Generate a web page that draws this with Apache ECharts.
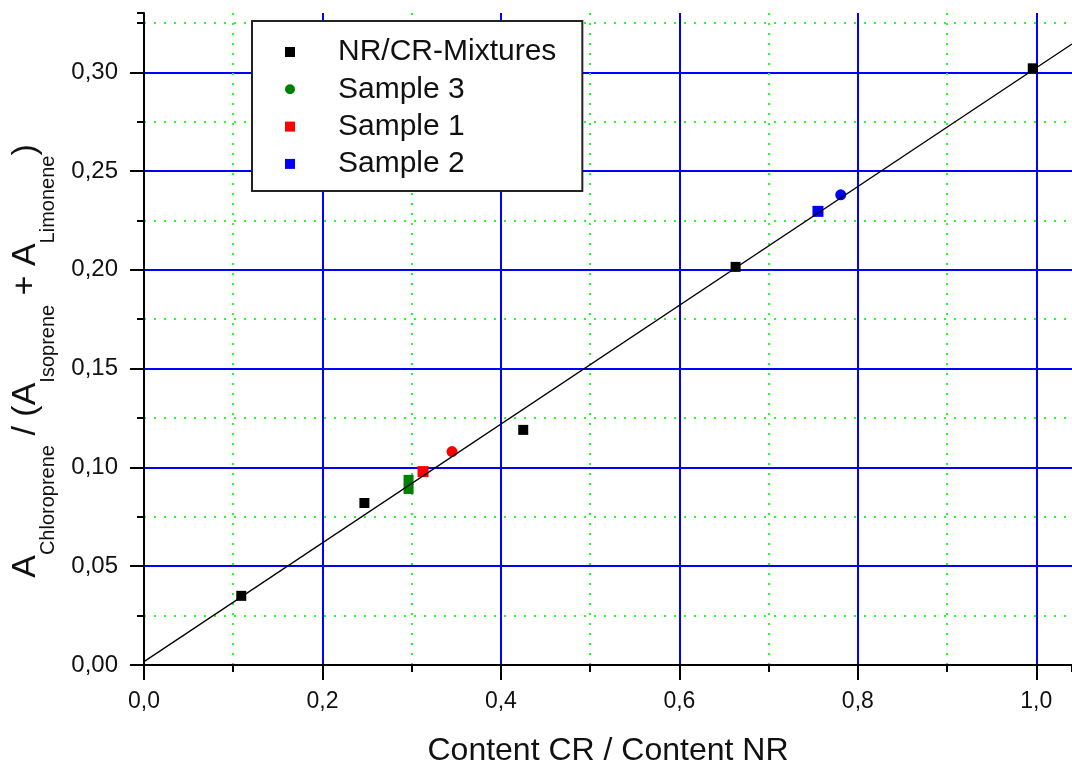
<!DOCTYPE html>
<html>
<head>
<meta charset="utf-8">
<script src="https://cdn.jsdelivr.net/npm/echarts@6/dist/echarts.min.js"></script>
<style>
  html, body { margin: 0; padding: 0; background: #fff; }
  #chart { width: 1072px; height: 766px; }
</style>
</head>
<body>
<div id="chart"></div>
<script>
// values
const mixtures = [[0.109, 0.035], [0.247, 0.082], [0.425, 0.119], [0.663, 0.2015], [0.996, 0.302]];
const sample3 = [[0.2965, 0.0937], [0.2965, 0.0891]];
const sample1 = [[0.3127, 0.0979], [0.3452, 0.108]];
const sample2 = [[0.7553, 0.2296], [0.7808, 0.238]];
const fitLine = [[0, 0.0017], [1.04, 0.3143]];

const xLabels = ['0,0', '0,2', '0,4', '0,6', '0,8', '1,0'];
const yLabels = ['0,00', '0,05', '0,10', '0,15', '0,20', '0,25', '0,30'];

const font = 'Liberation Sans, Arial, sans-serif';
const black = '#000';
const blue = '#0000ff';
const green = '#22ff22';

const chart = echarts.init(document.getElementById('chart'));

// first point of a sample is a square, second a dot
const sampleSymbol = (v, p) => (p.dataIndex === 0 ? 'rect' : 'circle');

chart.setOption({
  animation: false,
  backgroundColor: '#fff',
  grid: { left: 144, top: 13, right: 0, bottom: 101, outerBoundsMode: 'none', containLabel: false },
  legend: {
    orient: 'vertical',
    left: 252,
    top: 21,
    padding: [16, 26, 12, 33],
    itemWidth: 10,
    itemHeight: 10,
    itemGap: 7.3,
    backgroundColor: '#fff',
    borderColor: '#222',
    borderWidth: 2,
    textStyle: { fontFamily: font, fontSize: 30, color: '#111', lineHeight: 30, padding: [0, 0, 0, 38] },
    data: [
      { name: 'NR/CR-Mixtures', icon: 'rect' },
      { name: 'Sample 3', icon: 'circle' },
      { name: 'Sample 1', icon: 'rect' },
      { name: 'Sample 2', icon: 'rect' }
    ]
  },
  xAxis: [
    {
      // minor grid
      type: 'value', position: 'bottom', min: 0, max: 1.04, interval: 0.1,
      axisLine: { show: false },
      axisTick: { show: true, length: 7, lineStyle: { color: black, width: 2 } },
      axisLabel: { show: false },
      splitLine: { show: true, showMinLine: false, showMaxLine: false, lineStyle: { color: green, width: 2, type: [2, 8] } }
    },
    {
      type: 'value', position: 'bottom', min: 0, max: 1.04, interval: 0.2,
      axisLine: { show: true, lineStyle: { color: black, width: 2 } },
      axisTick: { show: true, length: 15, lineStyle: { color: black, width: 2 } },
      axisLabel: {
        margin: 25, fontFamily: font, fontSize: 23, color: '#111', showMaxLabel: false,
        formatter: v => xLabels[Math.round(v / 0.2)] || ''
      },
      splitLine: { show: true, showMinLine: false, showMaxLine: false, lineStyle: { color: blue, width: 2 } },
      name: 'Content CR / Content NR',
      nameLocation: 'middle',
      nameGap: 70,
      nameTextStyle: { fontFamily: font, fontSize: 32, color: '#111' }
    }
  ],
  yAxis: [
    {
      // minor grid
      type: 'value', position: 'left', min: 0, max: 0.33, interval: 0.025,
      axisLine: { show: false },
      axisTick: { show: true, length: 7, lineStyle: { color: black, width: 2 } },
      axisLabel: { show: false },
      splitLine: { show: true, showMinLine: false, showMaxLine: false, lineStyle: { color: green, width: 2, type: [2, 8] } }
    },
    {
      type: 'value', position: 'left', min: 0, max: 0.33, interval: 0.05,
      axisLine: { show: true, lineStyle: { color: black, width: 2 } },
      axisTick: { show: true, length: 14, lineStyle: { color: black, width: 2 } },
      axisLabel: {
        margin: 26, fontFamily: font, fontSize: 24, color: '#111', showMaxLabel: false,
        formatter: v => yLabels[Math.round(v / 0.05)] || ''
      },
      splitLine: { show: true, showMinLine: false, showMaxLine: false, lineStyle: { color: blue, width: 2 } },
      name: '{m|A}{s|Chloroprene}{m| / (A}{s|Isoprene}{m| + A}{s|Limonene}{m|)}',
      nameLocation: 'middle',
      nameRotate: 90,
      nameGap: 86,
      nameTextStyle: {
        fontFamily: font, color: '#111', padding: [0, 44, 0, 0],
        rich: {
          m: { fontFamily: font, fontSize: 34, color: '#111', verticalAlign: 'top' },
          s: { fontFamily: font, fontSize: 20, color: '#111', verticalAlign: 'bottom', padding: [29, 0, 0, 0] }
        }
      }
    }
  ],
  series: [
    {
      name: 'NR/CR-Mixtures', type: 'scatter', xAxisIndex: 1, yAxisIndex: 1,
      symbol: 'rect', symbolSize: 10, itemStyle: { color: black, opacity: 1 }, data: mixtures
    },
    {
      name: 'Sample 3', type: 'scatter', xAxisIndex: 1, yAxisIndex: 1,
      symbol: 'rect', symbolSize: 10, itemStyle: { color: '#008000', opacity: 1 }, data: sample3
    },
    {
      name: 'Sample 1', type: 'scatter', xAxisIndex: 1, yAxisIndex: 1,
      symbol: sampleSymbol, symbolSize: 11, itemStyle: { color: '#ff0000', opacity: 1 }, data: sample1
    },
    {
      name: 'Sample 2', type: 'scatter', xAxisIndex: 1, yAxisIndex: 1,
      symbol: sampleSymbol, symbolSize: 11, itemStyle: { color: blue, opacity: 1 }, data: sample2
    },
    {
      name: 'fit', type: 'line', xAxisIndex: 1, yAxisIndex: 1,
      showSymbol: false, silent: true, z: 3,
      lineStyle: { color: black, width: 1.3 }, data: fitLine
    }
  ]
});
</script>
</body>
</html>
